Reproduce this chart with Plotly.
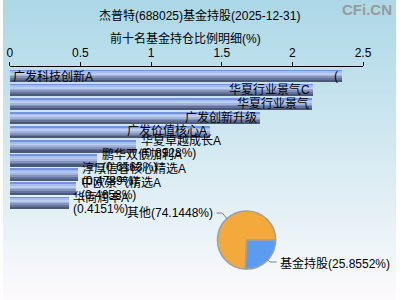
import plotly.graph_objects as go

# ---- data ----
fund_names = ["广发科技创新A", "华夏行业景气C", "华夏行业景气", "广发创新升级", "广发价值核心A",
              "华夏卓越成长A", "鹏华双债加利A", "淳厚信睿核心精选A", "中欧景气精选A", "华商润丰A"]
fund_pct = [2.3524, 2.1431, 2.1395, 1.7712, 1.4185, 0.8928, 0.6163, 0.4789, 0.4658, 0.4151]
pie_labels = ["基金持股", "其他"]
pie_values = [25.8552, 74.1448]
x_ticks = [0, 0.5, 1, 1.5, 2, 2.5]
title_text = "杰普特(688025)基金持股(2025-12-31)"
subtitle_text = "前十名基金持仓比例明细(%)"

W, H = 405, 300
FONT = "Liberation Sans, Noto Sans CJK SC, sans-serif"

def px(x):
    return x / W

def py(y):
    return 1 - y / H

fig = go.Figure()

# gradient bars built from overlaid bands
idx = list(range(len(fund_pct)))
band_colors = ['#7393de', '#a5bdf0', '#bccdf0', '#a3b4db', '#8393bd', '#65739a', '#4c5878']
bar_w = 0.84
bw = bar_w / len(band_colors)
for i, c in enumerate(band_colors):
    fig.add_trace(go.Bar(
        x=fund_pct, y=idx, orientation='h', base=0,
        width=[bw * 1.02] * len(idx), offset=-bar_w / 2 + i * bw,
        marker=dict(color=c, line=dict(width=0)),
        hoverinfo='skip', showlegend=False, xaxis='x', yaxis='y'))

# pie
fig.add_trace(go.Pie(
    labels=pie_labels, values=pie_values, sort=False, direction='clockwise',
    rotation=90, textinfo='none', hoverinfo='skip', showlegend=False,
    marker=dict(colors=['#5b9cf0', '#f3a93c'], line=dict(color='#a0a0a0', width=1.5)),
    domain=dict(x=[px(221), px(281)], y=[py(270), py(210)])))

annotations = []
# bar labels
for i, (n, v) in enumerate(zip(fund_names, fund_pct)):
    if i == 0:
        annotations.append(dict(x=0, y=i, xref='x', yref='y', text=n, showarrow=False,
                                xanchor='left', xshift=1, yshift=0, font=dict(size=12, color='black', family=FONT)))
        annotations.append(dict(x=v, y=i, xref='x', yref='y', text="(", showarrow=False,
                                xanchor='right', xshift=-2, font=dict(size=12, color='black', family=FONT)))
    elif v > 1:
        annotations.append(dict(x=v, y=i, xref='x', yref='y', text=n, showarrow=False,
                                xanchor='right', xshift=-1, yshift=1 if i < 4 else 2,
                                font=dict(size=12, color='black', family=FONT)))
    else:
        annotations.append(dict(x=v, y=i, xref='x', yref='y', text=n, showarrow=False,
                                xanchor='left', xshift=3, yshift=6,
                                font=dict(size=12, color='black', family=FONT)))
        annotations.append(dict(x=v, y=i, xref='x', yref='y', text="(%.4f%%)" % v, showarrow=False,
                                xanchor='left', xshift=3, yshift=-6,
                                font=dict(size=12, color='black', family=FONT)))

# titles
annotations.append(dict(x=px(202), y=py(15), xref='paper', yref='paper', text=title_text,
                        showarrow=False, xanchor='center', yanchor='middle',
                        font=dict(size=12, color='black', family=FONT)))
annotations.append(dict(x=px(188), y=py(38), xref='paper', yref='paper', text=subtitle_text,
                        showarrow=False, xanchor='center', yanchor='middle',
                        font=dict(size=12, color='black', family=FONT)))
annotations.append(dict(x=px(403), y=py(10), xref='paper', yref='paper', text="<b>CFi.CN</b>",
                        showarrow=False, xanchor='right', yanchor='middle',
                        font=dict(size=15, color='#9a9a9a', family=FONT)))
# pie labels
annotations.append(dict(x=px(218), y=py(213), xref='paper', yref='paper',
                        text="%s(%.4f%%)" % (pie_labels[1], pie_values[1]),
                        showarrow=False, xanchor='right', yanchor='middle',
                        font=dict(size=12, color='black', family=FONT)))
annotations.append(dict(x=px(283), y=py(263), xref='paper', yref='paper',
                        text="%s(%.4f%%)" % (pie_labels[0], pie_values[0]),
                        showarrow=False, xanchor='left', yanchor='middle',
                        font=dict(size=12, color='black', family=FONT)))

shapes = []
# background gradient
top = (172, 216, 231)
bot = (252, 250, 252)
n = 60
for k in range(n):
    t = k / (n - 1)
    c = tuple(int(round(top[j] + (bot[j] - top[j]) * t)) for j in range(3))
    shapes.append(dict(type='rect', xref='paper', yref='paper', x0=0, x1=1,
                       y0=1 - (k + 1) / n - 0.002, y1=1 - k / n,
                       fillcolor='rgb(%d,%d,%d)' % c, line=dict(width=0), layer='below'))
# leader lines
def path(points):
    return "M " + " L ".join("%f,%f" % (px(a), py(b)) for a, b in points)
shapes.append(dict(type='path', xref='paper', yref='paper',
                   path=path([(220, 213), (226, 213), (231, 219)]),
                   line=dict(color='#808080', width=1)))
shapes.append(dict(type='path', xref='paper', yref='paper',
                   path=path([(272, 259), (275, 262), (282, 262)]),
                   line=dict(color='#808080', width=1)))

fig.update_layout(
    width=W, height=H, margin=dict(l=0, r=0, t=0, b=0),
    paper_bgcolor='rgba(0,0,0,0)', plot_bgcolor='rgba(0,0,0,0)',
    barmode='overlay', bargap=0,
    xaxis=dict(domain=[px(7), px(371)], range=[0, 2.5], side='top', anchor='y',
               tickvals=x_ticks, ticktext=[str(t) for t in x_ticks],
               ticks='outside', ticklen=4, tickcolor='black', showline=True,
               linecolor='black', linewidth=1, showgrid=False, zeroline=False,
               tickfont=dict(size=12, color='black', family=FONT)),
    yaxis=dict(domain=[py(215), py(67)], range=[9.85, -0.64], showticklabels=False,
               showgrid=False, zeroline=False, showline=False, ticks=''),
    annotations=annotations, shapes=shapes,
)

fig.write_html("out.html")
